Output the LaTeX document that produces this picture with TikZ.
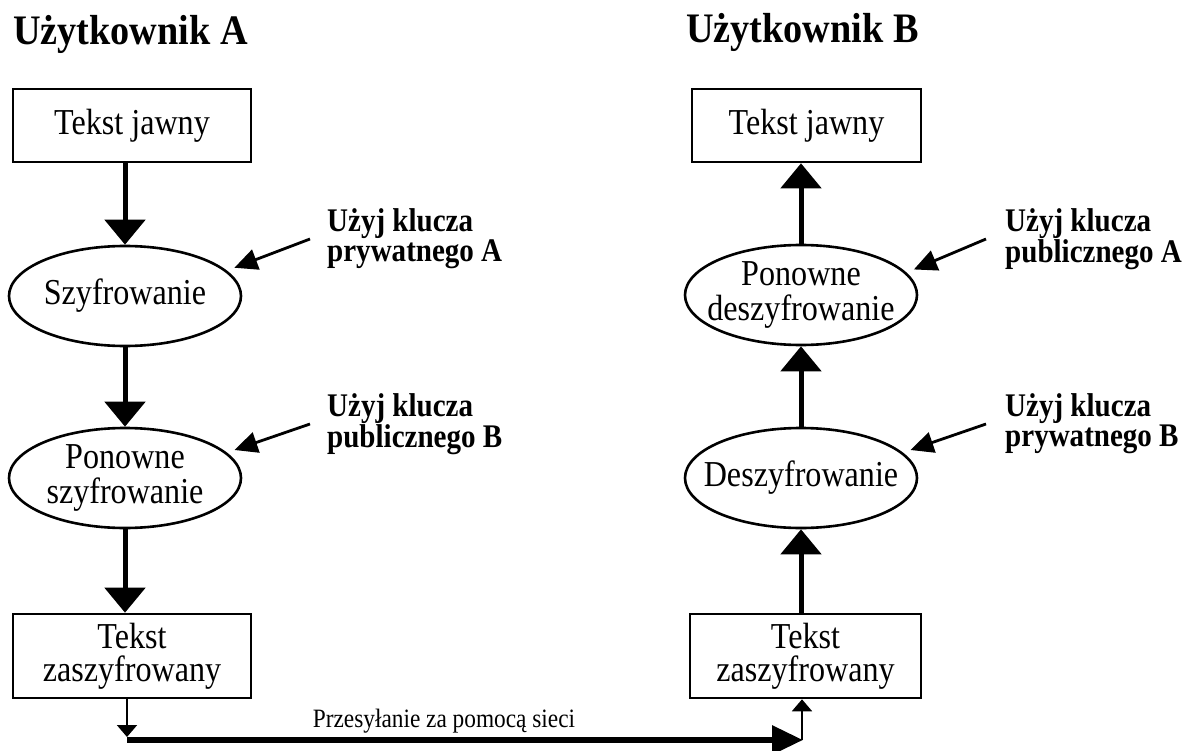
\documentclass[tikz,border=0pt]{standalone}
\usepackage{fontspec}
\setmainfont{Liberation Serif}[FakeStretch=0.88]
\newfontfamily\titlefont{Liberation Serif}[FakeStretch=0.91]
\usetikzlibrary{arrows.meta,shapes.geometric}
\begin{document}
\begin{tikzpicture}[x=1pt,y=-1pt,
  box/.style={draw, line width=2.6pt, minimum width=238pt, minimum height=73pt, align=center,
    font=\fontsize{36.5}{33}\selectfont, inner sep=0pt},
  oval/.style={draw, ellipse, line width=2.6pt, minimum width=232pt, minimum height=100pt,
    inner xsep=-25pt, inner ysep=-12pt, align=center, font=\fontsize{36.5}{35}\selectfont},
  flow/.style={line width=5pt, -{Triangle[length=25pt,width=40pt]}},
  thinarrow/.style={line width=2pt, -{Triangle[length=12pt,width=20pt]}},
  bus/.style={line width=6pt, -{Triangle[length=31pt,width=28pt]}},
  keyarrow/.style={line width=2.8pt, -{Triangle[length=23pt,width=21pt]}, shorten >=8pt},
  keylabel/.style={font=\bfseries\fontsize{33}{30}\selectfont, align=left, anchor=west, inner sep=0pt},
  title/.style={font=\titlefont\bfseries\fontsize{42}{42}\selectfont, anchor=base west, inner sep=0pt}
]
\useasboundingbox (0,0) rectangle (1190,751);
\fill[white] (0,0) rectangle (1190,751);

% titles
\node[title] (tA) at (13,45) {Użytkownik A};
\node[title] (tB) at (686,43) {Użytkownik B};

% left column
\node[box] (a1) at (132,125.5) {Tekst jawny};
\node[oval] (a2) at (125,296) {Szyfrowanie};
\node[oval] (a3) at (125,478) {Ponowne\\szyfrowanie};
\node[box, minimum height=84pt] (a4) at (132,656) {Tekst\\zaszyfrowany};

% right column
\node[box, minimum width=229pt] (b1) at (806.5,125.5) {Tekst jawny};
\node[oval] (b2) at (801,295) {Ponowne\\deszyfrowanie};
\node[oval] (b3) at (801,478) {Deszyfrowanie};
\node[box, minimum width=231pt, minimum height=84pt] (b4) at (805.5,656) {Tekst\\zaszyfrowany};

% flow arrows
\draw[flow] (a1.south -| a2) -- (a2.north);
\draw[flow] (a2.south) -- (a3.north);
\draw[flow] (a3.south) -- (a4.north -| a3);
\draw[flow] (b2.north) -- (b1.south -| b2);
\draw[flow] (b3.north) -- (b2.south);
\draw[flow] (b4.north -| b3) -- (b3.south);

% network transfer
\coordinate (c1) at (127,740);
\coordinate (c2) at (803,740);
\coordinate (c3) at (802,740);
\draw[thinarrow] (a4.south -| c1) -- ([yshift=3pt]c1);
\draw[bus] (c1) -- (c2);
\draw[thinarrow] (c3) -- (b4.south -| c3);
\node[font=\fontsize{26.5}{26}\selectfont, anchor=base, inner sep=0pt] (net) at (444,727) {Przesyłanie za pomocą sieci};

% key labels
\node[keylabel] (k1) at (327,239) {Użyj klucza\\prywatnego A};
\node[keylabel] (k2) at (327,424) {Użyj klucza\\publicznego B};
\node[keylabel] (k3) at (1005,239) {Użyj klucza\\publicznego A};
\node[keylabel] (k4) at (1005,424) {Użyj klucza\\prywatnego B};

\draw[keyarrow] ([xshift=-17pt]k1.west) -- (a2.14);
\draw[keyarrow] ([xshift=-17pt]k2.west) -- (a3.14);
\draw[keyarrow] ([xshift=-19pt]k3.west) -- (b2.12);
\draw[keyarrow] ([xshift=-19pt]k4.west) -- (b3.14);
\end{tikzpicture}
\end{document}
